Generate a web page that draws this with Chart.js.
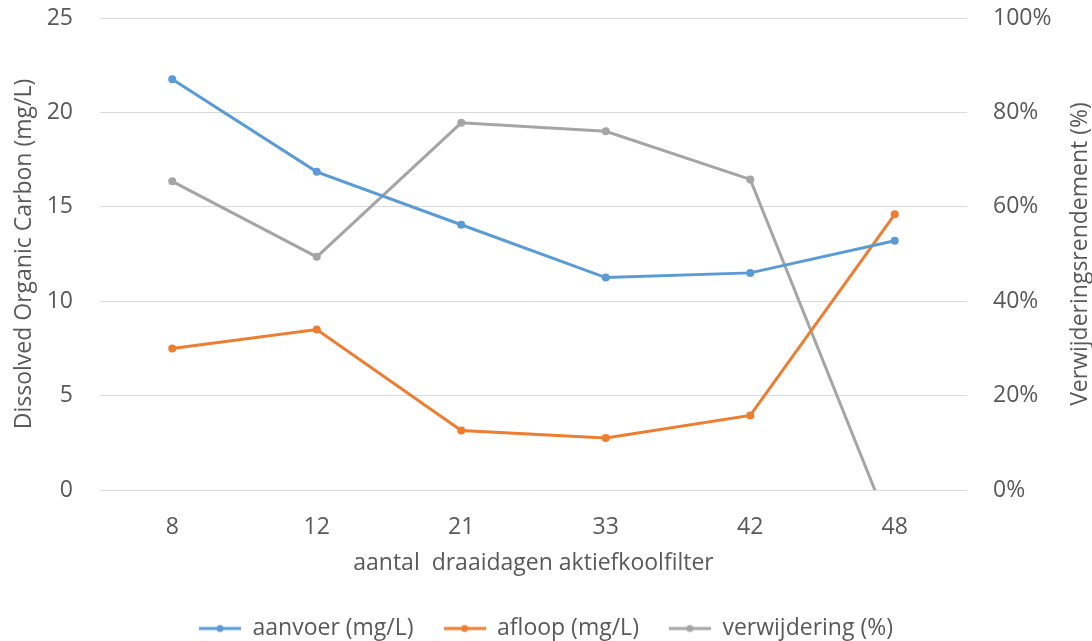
<!DOCTYPE html>
<html>
<head>
<meta charset="utf-8">
<script src="https://cdn.jsdelivr.net/npm/chart.js@4.4.1/dist/chart.umd.min.js"></script>
<style>
  html, body { margin: 0; padding: 0; background: #ffffff; }
</style>
</head>
<body>
<canvas id="docChart" width="1092" height="641"></canvas>
<script>
// draaidagen van het aktiefkoolfilter
const days = ['8', '12', '21', '33', '42', '48'];

// DOC in mg/L
const aanvoer = [21.75, 16.85, 14.05, 11.25, 11.5, 13.2];
const afloop = [7.5, 8.5, 3.15, 2.75, 3.95, 14.6];

// verwijderingsrendement in %
const verwijdering = [65.4, 49.4, 77.8, 76.0, 65.8, -10.5];

const docTicks = [0, 5, 10, 15, 20, 25];
const pctTicks = [0, 20, 40, 60, 80, 100];

const textColor = '#595959';
const fontFamily = '"Open Sans", Lato, sans-serif';
const fontSize = 23;

// legend marker: short line with a dot, like the series themselves
function legendMarker(color) {
    let c = document.createElement('canvas');
    c.width = 42;
    c.height = 10;
    let ctx = c.getContext('2d');
    ctx.strokeStyle = color;
    ctx.lineWidth = 3;
    ctx.beginPath();
    ctx.moveTo(0, 5);
    ctx.lineTo(42, 5);
    ctx.stroke();
    ctx.fillStyle = color;
    ctx.beginPath();
    ctx.arc(21, 5, 3.5, 0, Math.PI * 2);
    ctx.fill();
    return c;
}

// right axis title reads bottom-to-top, same as the left one
const rightTitle = {
    id: 'rightTitle',
    afterDraw(chart) {
        const ctx = chart.ctx;
        const area = chart.chartArea;
        ctx.save();
        ctx.translate(1080, (area.top + area.bottom) / 2);
        ctx.rotate(-Math.PI / 2);
        ctx.font = fontSize + 'px ' + fontFamily;
        ctx.fillStyle = textColor;
        ctx.textAlign = 'center';
        ctx.textBaseline = 'middle';
        ctx.fillText('Verwijderingsrendement (%)', 0, 0);
        ctx.restore();
    }
};

// fixed legend height so it sits close to the bottom edge
const legendHeight = {
    id: 'legendHeight',
    beforeInit(chart) {
        const legend = chart.legend;
        const fit = legend.fit;
        legend.fit = function () {
            fit.call(this);
            this.height = 54;
        };
    }
};

// y axes: fixed width, no extra room above the top tick
function fitYAxis(width) {
    return function (scale) {
        scale.width = width;
        scale.paddingTop = 0;
        scale.paddingBottom = 0;
    };
}

const colors = ['#5B9BD5', '#ED7D31', '#A5A5A5'];

new Chart(document.getElementById('docChart'), {
    type: 'line',
    data: {
        labels: days,
        datasets: [{
            label: 'aanvoer (mg/L)',
            data: aanvoer,
            borderColor: colors[0],
            backgroundColor: colors[0],
            yAxisID: 'y'
        }, {
            label: 'afloop (mg/L)',
            data: afloop,
            borderColor: colors[1],
            backgroundColor: colors[1],
            yAxisID: 'y'
        }, {
            label: 'verwijdering (%)',
            data: verwijdering,
            borderColor: colors[2],
            backgroundColor: colors[2],
            yAxisID: 'y1'
        }]
    },
    options: {
        responsive: false,
        animation: false,
        layout: {
            padding: { top: 18, left: 0, right: 0, bottom: 0 }
        },
        elements: {
            line: { borderWidth: 3, tension: 0 },
            point: { radius: 4, hoverRadius: 4, borderWidth: 0 }
        },
        plugins: {
            tooltip: { enabled: false },
            legend: {
                position: 'bottom',
                labels: {
                    usePointStyle: true,
                    pointStyleWidth: 42,
                    padding: 30,
                    color: textColor,
                    font: { family: fontFamily, size: fontSize },
                    generateLabels(chart) {
                        return chart.data.datasets.map((ds, i) => ({
                            text: ds.label,
                            fillStyle: ds.borderColor,
                            strokeStyle: ds.borderColor,
                            fontColor: textColor,
                            lineWidth: 0,
                            pointStyle: legendMarker(ds.borderColor),
                            datasetIndex: i
                        }));
                    }
                }
            }
        },
        scales: {
            x: {
                offset: true,
                grid: { display: false },
                border: { display: false },
                ticks: {
                    padding: 16,
                    color: textColor,
                    font: { family: fontFamily, size: fontSize }
                },
                title: {
                    display: true,
                    text: 'aantal  draaidagen aktiefkoolfilter',
                    color: textColor,
                    font: { family: fontFamily, size: fontSize },
                    padding: { top: 0, bottom: 10 }
                },
                afterFit(scale) {
                    scale.height = 97;
                }
            },
            y: {
                position: 'left',
                min: 0,
                max: 25,
                grid: { color: '#D9D9D9', lineWidth: 1, drawTicks: false },
                border: { display: false },
                afterBuildTicks(scale) {
                    scale.ticks = docTicks.map(v => ({ value: v }));
                },
                ticks: {
                    padding: 27,
                    color: textColor,
                    font: { family: fontFamily, size: fontSize }
                },
                title: {
                    display: true,
                    text: 'Dissolved Organic Carbon (mg/L)',
                    color: textColor,
                    font: { family: fontFamily, size: fontSize },
                    padding: { top: 11, bottom: 0 }
                },
                afterFit: fitYAxis(100)
            },
            y1: {
                position: 'right',
                min: 0,
                max: 100,
                grid: { display: false, drawTicks: false },
                border: { display: false },
                afterBuildTicks(scale) {
                    scale.ticks = pctTicks.map(v => ({ value: v }));
                },
                ticks: {
                    padding: 26,
                    color: textColor,
                    font: { family: fontFamily, size: fontSize },
                    callback: v => v + '%'
                },
                afterFit: fitYAxis(125)
            }
        }
    },
    plugins: [rightTitle, legendHeight]
});
</script>
</body>
</html>
